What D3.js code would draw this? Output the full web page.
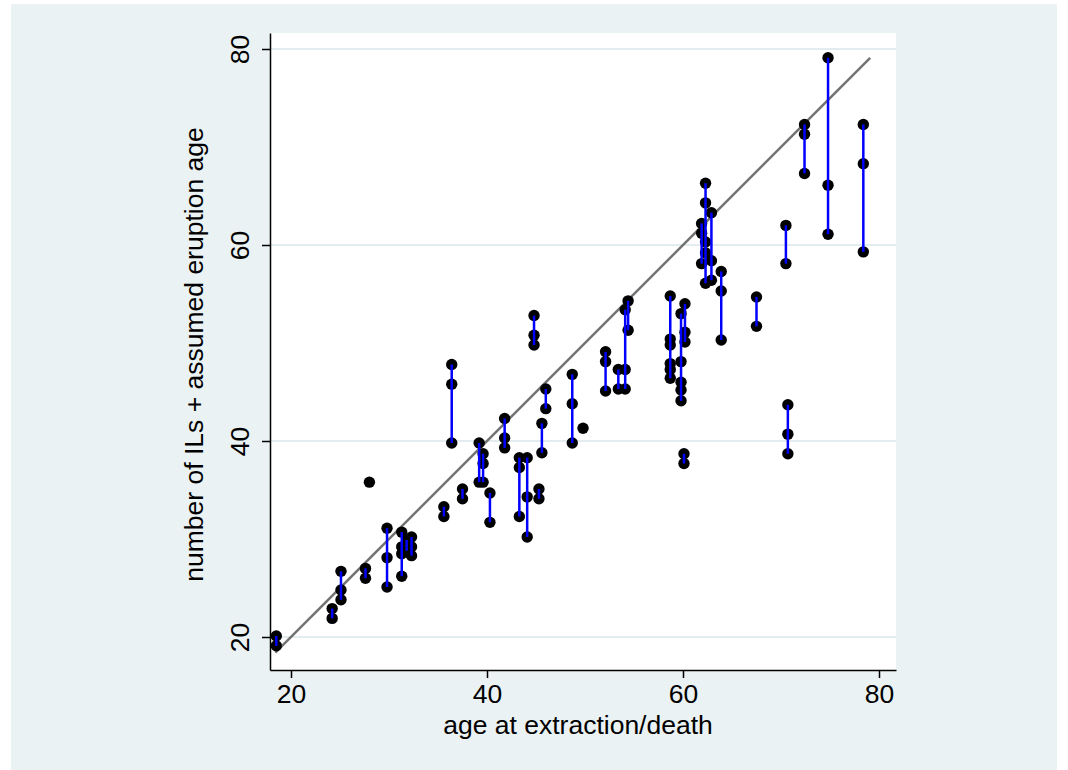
<!DOCTYPE html>
<html>
<head>
<meta charset="utf-8">
<script src="https://cdn.jsdelivr.net/npm/d3@7"></script>
<style>
  body { margin: 0; background: #fff; }
  text { font-family: "Liberation Sans", Arial, Helvetica, sans-serif; fill: #000; }
</style>
</head>
<body>
<div id="chart"></div>
<script>
// ages (x) and the y values recorded at each age
var ages = [18.5, 24.2, 25.1, 27.6, 28.0, 29.8, 31.3, 31.8, 32.3, 35.6,
            36.4, 37.5, 39.2, 39.6, 40.3, 41.8, 43.3, 44.1, 44.8, 45.3,
            45.6, 46.0, 48.7, 49.8, 52.1, 53.4, 54.1, 54.4, 58.7, 59.8,
            60.2, 60.1, 61.9, 62.3, 62.9, 63.9, 67.5, 70.5, 70.7, 72.4,
            74.8, 78.4];
var values = [
    [20.1, 19.1], [22.9, 21.9], [26.7, 24.8, 23.8], [27.0, 26.0], [35.8],
    [31.1, 28.1, 25.1], [30.7, 29.2, 28.5, 26.2], [29.9, 28.8], [30.2, 29.2, 28.3], [33.3, 32.3],
    [47.8, 45.8, 39.8], [35.1, 34.1], [39.8, 35.8], [38.7, 37.7, 35.8], [34.7, 31.7],
    [42.3, 40.3, 39.3], [38.3, 37.3, 32.3], [38.3, 34.3, 30.2], [52.8, 50.8, 49.8], [35.1, 34.1],
    [41.8, 38.8], [45.3, 43.3], [46.8, 43.8, 39.8], [41.3], [49.1, 48.1, 45.1],
    [47.3, 45.3], [53.4, 47.3, 45.3], [54.3, 51.3], [54.8, 50.4, 49.8, 47.9, 47.3, 46.4], [53.0, 48.1, 46.0, 45.2, 44.1],
    [54.0, 51.1, 50.1], [38.7, 37.7], [62.2, 61.2, 58.1], [66.3, 64.3, 60.3, 59.2, 56.1], [63.3, 58.4, 56.4],
    [57.3, 55.3, 50.3], [54.7, 51.7], [62.0, 58.1], [43.7, 40.7, 38.7], [72.3, 71.3, 67.3],
    [79.1, 66.1, 61.1], [72.3, 68.3, 59.3]
];
var lineEnds = [18.4, 79.1];   // y = x reference line
var xTicks = [20, 40, 60, 80];
var yTicks = [20, 40, 60, 80];
var xTitle = 'age at extraction/death';
var yTitle = 'number of ILs + assumed eruption age';

var svgWidth = 1068, svgHeight = 770;
var plot = { left: 270, right: 896, top: 33, bottom: 670 };
var bg = '#eaf2f3';
var fontSize = 26.5;

var svg = d3.select('#chart').append('svg')
    .attr('width', svgWidth)
    .attr('height', svgHeight);

// graph region
svg.append('rect')
    .attr('x', 11).attr('y', 4)
    .attr('width', 1046).attr('height', svgHeight - 4)
    .attr('fill', bg);

// plot region
svg.append('rect')
    .attr('x', plot.left).attr('y', plot.top)
    .attr('width', plot.right - plot.left).attr('height', plot.bottom - plot.top)
    .attr('fill', '#fff');

var x = d3.scaleLinear()
    .domain([20 - 21 / 9.8, 80 + 17 / 9.8])
    .range([plot.left, plot.right]);
var y = d3.scaleLinear()
    .domain([20 - 33 / 9.8, 80 + 16 / 9.8])
    .range([plot.bottom, plot.top]);

// gridlines
svg.append('g').selectAll('line')
    .data(yTicks)
    .enter().append('line')
    .attr('x1', plot.left).attr('x2', plot.right)
    .attr('y1', d => y(d)).attr('y2', d => y(d))
    .attr('stroke', '#e3ecee')
    .attr('stroke-width', 2);

// axes
var xAxis = svg.append('g')
    .attr('transform', 'translate(0,' + plot.bottom + ')')
    .call(d3.axisBottom(x).tickValues(xTicks).tickSize(8).tickSizeOuter(0));
var yAxis = svg.append('g')
    .attr('transform', 'translate(' + plot.left + ',0)')
    .call(d3.axisLeft(y).tickValues(yTicks).tickSize(8).tickSizeOuter(0));

[xAxis, yAxis].forEach(function (ax) {
    ax.select('.domain').attr('stroke', '#000').attr('stroke-width', 1.5);
    ax.selectAll('.tick line').attr('stroke', '#000').attr('stroke-width', 1.5);
    ax.selectAll('text').attr('font-size', fontSize).attr('font-family', null).attr('fill', '#000');
});
xAxis.selectAll('.tick text').attr('dy', null).attr('y', 33);
yAxis.selectAll('.tick text')
    .attr('x', null).attr('dy', null)
    .attr('text-anchor', 'middle')
    .attr('transform', 'translate(-21,0) rotate(-90)');

// reference line
svg.append('line')
    .attr('x1', x(lineEnds[0])).attr('y1', y(lineEnds[0]))
    .attr('x2', x(lineEnds[1])).attr('y2', y(lineEnds[1]))
    .attr('stroke', '#737373')
    .attr('stroke-width', 2.5);

var points = [];
ages.forEach(function (a, i) {
    values[i].forEach(function (v) { points.push({ age: a, val: v }); });
});

// markers
svg.append('g').selectAll('circle')
    .data(points)
    .enter().append('circle')
    .attr('cx', d => x(d.age))
    .attr('cy', d => y(d.val))
    .attr('r', 5.7)
    .attr('fill', '#000');

// range spikes
svg.append('g').selectAll('line')
    .data(ages.map((a, i) => ({ age: a, lo: d3.min(values[i]), hi: d3.max(values[i]) }))
        .filter(d => d.hi > d.lo))
    .enter().append('line')
    .attr('x1', d => x(d.age)).attr('x2', d => x(d.age))
    .attr('y1', d => y(d.lo)).attr('y2', d => y(d.hi))
    .attr('stroke', '#0000ff')
    .attr('stroke-width', 2.5);

// titles
svg.append('text')
    .attr('x', (plot.left + plot.right) / 2 - 5)
    .attr('y', 734)
    .attr('text-anchor', 'middle')
    .attr('font-size', fontSize)
    .text(xTitle);

svg.append('text')
    .attr('transform', 'translate(203,' + ((plot.top + plot.bottom) / 2 + 3) + ') rotate(-90)')
    .attr('text-anchor', 'middle')
    .attr('font-size', fontSize)
    .text(yTitle);
</script>
</body>
</html>
